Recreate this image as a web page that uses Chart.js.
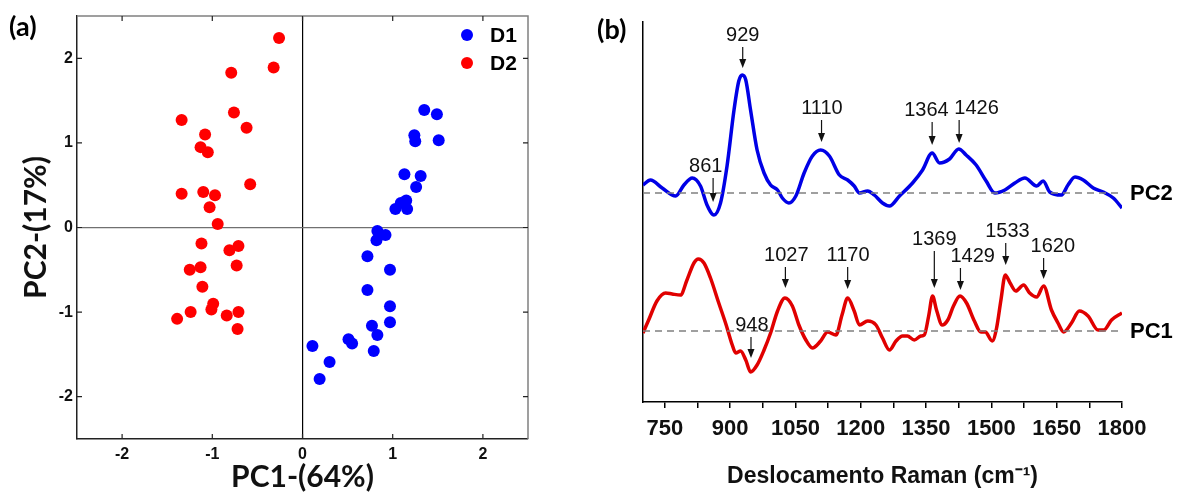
<!DOCTYPE html>
<html>
<head>
<meta charset="utf-8">
<script src="https://cdn.jsdelivr.net/npm/chart.js@4.4.1/dist/chart.umd.min.js"></script>
<style>
  html, body { margin: 0; padding: 0; background: #fff; }
  #wrap { position: relative; width: 1188px; height: 492px; }
  #scoreChart { position: absolute; left: 0; top: 0; }
  #loadingChart { position: absolute; left: 594px; top: 0; }
</style>
</head>
<body>
<div id="wrap">
  <canvas id="scoreChart" width="594" height="492"></canvas>
  <canvas id="loadingChart" width="594" height="492"></canvas>
</div>
<script>
// (a) PCA scores
const d1PC1 = [1.35, 1.49, 1.24, 1.25, 1.51, 1.13, 1.31, 1.26, 1.15, 1.09, 1.03, 1.16, 0.83, 0.92,
    0.82, 0.72, 0.97, 0.72, 0.97, 0.97, 0.77, 0.83, 0.51, 0.55, 0.79, 0.11, 0.30, 0.19];
const d1PC2 = [1.39, 1.34, 1.09, 1.02, 1.03, 0.63, 0.61, 0.48, 0.32, 0.29, 0.22, 0.22, -0.04, -0.09,
    -0.15, -0.34, -0.50, -0.74, -0.93, -1.12, -1.16, -1.27, -1.32, -1.37, -1.46, -1.40, -1.59, -1.79];
const d2PC1 = [-0.26, -0.32, -0.79, -0.76, -0.62, -1.34, -1.08, -1.13, -1.05, -0.58, -1.34, -1.10, -0.97,
    -1.03, -0.94, -1.12, -0.81, -0.71, -1.25, -1.13, -0.73, -1.11, -0.99, -1.01, -1.24, -1.39, -0.84, -0.71, -0.72];
const d2PC2 = [2.24, 1.89, 1.83, 1.36, 1.18, 1.27, 1.10, 0.95, 0.89, 0.51, 0.40, 0.42, 0.38,
    0.24, 0.04, -0.19, -0.27, -0.22, -0.50, -0.47, -0.45, -0.70, -0.90, -0.97, -1.00, -1.08, -1.04, -1.00, -1.20];
const scoreTicks = [-2, -1, 0, 1, 2];

// (b) loadings (arbitrary units, each curve around its own zero line)
const pc2Shift = [700, 717, 744, 775, 794, 813, 832, 847, 863, 878, 893, 909, 920, 928, 936, 947, 962, 978,
    993, 1009, 1020, 1035, 1051, 1070, 1089, 1108, 1128, 1151, 1170, 1185, 1197, 1216, 1231, 1250, 1266,
    1289, 1319, 1342, 1364, 1381, 1404, 1425, 1442, 1465, 1488, 1508, 1531, 1554, 1577, 1604, 1619, 1634,
    1661, 1676, 1692, 1711, 1734, 1757, 1780, 1800];
const pc2Loading = [0.8, 1.3, 0.5, -0.3, 0.8, 1.5, 0.7, -1.2, -2.2, -1.0, 2.7, 8.3, 11.2, 11.8, 11.3, 8.3, 4.3, 2.0,
    0.8, 0.3, -0.5, -1.0, -0.3, 2.0, 3.7, 4.3, 3.7, 1.8, 1.3, 0.7, 0.0, 0.2, -0.2, -1.0, -1.3,
    -0.3, 1.0, 2.3, 4.0, 3.0, 3.4, 4.4, 3.8, 2.8, 1.2, 0.0, 0.3, 1.0, 1.5, 0.7, 1.2, 0.1,
    -0.2, 0.8, 1.6, 1.3, 0.5, 0.1, -0.5, -1.5];
const pc1Shift = [700, 713, 732, 752, 767, 786, 801, 817, 827, 840, 855, 874, 891, 905, 913, 924, 936, 947, 962,
    978, 993, 1009, 1026, 1043, 1058, 1074, 1089, 1108, 1124, 1143, 1157, 1170, 1185, 1197, 1216, 1235,
    1250, 1266, 1281, 1296, 1307, 1323, 1338, 1346, 1356, 1365, 1374, 1387, 1400, 1413, 1428, 1443, 1461,
    1476, 1486, 1502, 1512, 1522, 1532, 1543, 1556, 1574, 1588, 1604, 1620, 1638, 1653, 1666, 1684, 1702,
    1722, 1745, 1758, 1776, 1800];
const pc1Loading = [-0.2, 1.1, 3.0, 3.8, 3.7, 3.6, 5.1, 6.8, 7.2, 6.8, 5.3, 2.8, 0.6, -1.4, -2.2, -2.0, -2.9, -4.1, -3.4,
    -1.9, -0.2, 2.0, 3.3, 2.5, 0.6, -0.9, -1.7, -1.0, -0.1, -0.4, 1.6, 3.3, 2.0, 0.6, 1.0, 0.6,
    -0.7, -1.9, -1.0, -0.5, -0.5, -0.9, -0.5, -0.4, 1.5, 3.5, 2.1, 0.6, 1.1, 2.5, 3.5, 2.8, 1.0,
    -0.1, -0.1, -1.0, 0.3, 3.1, 5.6, 4.8, 4.0, 4.6, 3.8, 3.4, 4.5, 2.1, 0.8, -0.1, 0.8, 2.0,
    1.5, 0.1, 0.1, 1.1, 1.8];
const pc2Offset = 20.9;
const pc1Offset = 7.1;
const ramanMajorTicks = [750, 900, 1050, 1200, 1350, 1500, 1650, 1800];
const ramanMinorTicks = [825, 975, 1125, 1275, 1425, 1575, 1725];

// peak labels: band, arrow tip / tail (loading units), where the number sits
const pc2Peaks = [861, 929, 1110, 1364, 1426];
const pc2PeakTip = [-0.9, 12.5, 5.1, 4.8, 5.0];
const pc2PeakTail = [1.5, 14.6, 7.3, 7.1, 7.3];
const pc2PeakLabelAt = [844, 929, 1111, 1351, 1466];
const pc1Peaks = [948, 1027, 1170, 1369, 1429, 1533, 1620];
const pc1PeakTip = [-2.7, 4.3, 4.2, 4.3, 4.1, 6.6, 5.2];
const pc1PeakTail = [-0.6, 6.4, 6.4, 8.0, 6.3, 8.8, 7.3];
const pc1PeakLabelAt = [950, 1029, 1171, 1369, 1457, 1537, 1641];

const toPoints = (xs, ys, shift = 0) => xs.map((x, i) => ({ x: x, y: ys[i] + shift }));

// frame, inward ticks, legend and panel letter for (a)
const scoreDecor = {
    id: 'scoreDecor',
    afterDraw(chart) {
        const { ctx, chartArea: a, scales: { x, y } } = chart;
        ctx.save();
        ctx.strokeStyle = '#808080';
        ctx.lineWidth = 1.5;
        ctx.beginPath();
        ctx.moveTo(a.left, a.top); ctx.lineTo(a.right, a.top); ctx.lineTo(a.right, a.bottom);
        ctx.stroke();
        ctx.strokeStyle = '#222';
        ctx.lineWidth = 1.2;
        ctx.beginPath();
        scoreTicks.forEach(v => {
            const px = x.getPixelForValue(v);
            ctx.moveTo(px, a.bottom); ctx.lineTo(px, a.bottom - 5);
            ctx.moveTo(px, a.top); ctx.lineTo(px, a.top + 5);
            const py = y.getPixelForValue(v);
            ctx.moveTo(a.left, py); ctx.lineTo(a.left + 5, py);
            ctx.moveTo(a.right, py); ctx.lineTo(a.right - 5, py);
        });
        ctx.stroke();

        // legend
        chart.data.datasets.forEach((ds, i) => {
            const cy = a.top + 19 + i * 28;
            ctx.fillStyle = ds.backgroundColor;
            ctx.beginPath();
            ctx.arc(a.right - 61, cy, 6, 0, Math.PI * 2);
            ctx.fill();
            ctx.fillStyle = '#000';
            ctx.font = 'bold 21px "Liberation Sans", Arial, sans-serif';
            ctx.textAlign = 'left';
            ctx.textBaseline = 'middle';
            ctx.fillText(ds.label, a.right - 38, cy + 1);
        });

        ctx.font = 'bold 27px Lato, "Open Sans", sans-serif';
        ctx.textAlign = 'left';
        ctx.textBaseline = 'middle';
        ctx.fillText('(a)', 9, 27);
        ctx.restore();
    }
};

// peak arrows, curve names and panel letter for (b)
function drawPeaks(ctx, x, y, peaks, tips, tails, labelAt, offset) {
    peaks.forEach((p, i) => {
        const px = x.getPixelForValue(p);
        const top = y.getPixelForValue(tails[i] + offset);
        const tip = y.getPixelForValue(tips[i] + offset);
        ctx.beginPath();
        ctx.moveTo(px, top); ctx.lineTo(px, tip - 7);
        ctx.stroke();
        ctx.beginPath();
        ctx.moveTo(px - 3.5, tip - 9); ctx.lineTo(px + 3.5, tip - 9); ctx.lineTo(px, tip);
        ctx.closePath();
        ctx.fill();
        ctx.fillText(String(p), x.getPixelForValue(labelAt[i]), top - 12);
    });
}

const loadingDecor = {
    id: 'loadingDecor',
    afterDatasetsDraw(chart) {
        const { ctx, chartArea: a, scales: { x, y } } = chart;
        ctx.save();
        ctx.strokeStyle = '#111';
        ctx.fillStyle = '#111';
        ctx.lineWidth = 1.2;
        ctx.font = '20px "Liberation Sans", Arial, sans-serif';
        ctx.textAlign = 'center';
        ctx.textBaseline = 'middle';
        drawPeaks(ctx, x, y, pc2Peaks, pc2PeakTip, pc2PeakTail, pc2PeakLabelAt, pc2Offset);
        drawPeaks(ctx, x, y, pc1Peaks, pc1PeakTip, pc1PeakTail, pc1PeakLabelAt, pc1Offset);

        ctx.fillStyle = '#000';
        ctx.font = 'bold 22px "Liberation Sans", Arial, sans-serif';
        ctx.textAlign = 'left';
        ctx.fillText('PC2', a.right + 8, y.getPixelForValue(pc2Offset) + 1);
        ctx.fillText('PC1', a.right + 8, y.getPixelForValue(pc1Offset) + 1);

        ctx.font = 'bold 27px Lato, "Open Sans", sans-serif';
        ctx.fillText('(b)', 3, 30);
        ctx.restore();
    }
};

const titleFont = { family: 'Lato, "Open Sans", sans-serif', size: 30, weight: 'bold', lineHeight: 1 };
const scoreTickFont = { family: '"Liberation Sans", Arial, sans-serif', size: 16, weight: 'bold' };

function createScoreChart() {
    const ctx = document.getElementById('scoreChart').getContext('2d');
    return new Chart(ctx, {
        type: 'scatter',
        data: {
            datasets: [
                { label: 'D1', data: toPoints(d1PC1, d1PC2), backgroundColor: '#0000ff', pointRadius: 6, pointBorderWidth: 0 },
                { label: 'D2', data: toPoints(d2PC1, d2PC2), backgroundColor: '#ff0000', pointRadius: 6, pointBorderWidth: 0 },
            ],
        },
        options: {
            responsive: false,
            animation: false,
            events: [],
            layout: { padding: { top: 16, right: 66, left: 0, bottom: 0 } },
            plugins: { legend: { display: false }, tooltip: { enabled: false } },
            scales: {
                x: {
                    min: -2.5, max: 2.5,
                    afterBuildTicks: s => { s.ticks = scoreTicks.map(v => ({ value: v })); },
                    afterFit: s => { s.height = 53; },
                    ticks: { font: scoreTickFont, color: '#111', padding: 6, maxRotation: 0 },
                    grid: {
                        drawTicks: false, lineWidth: 1.2,
                        color: c => (c.tick && c.tick.value === 0 ? '#000' : 'rgba(0,0,0,0)'),
                    },
                    border: { color: '#222', width: 1.5 },
                    title: { display: true, text: 'PC1-(64%)', font: titleFont, color: '#111', padding: { top: 0, bottom: 0 } },
                },
                y: {
                    min: -2.5, max: 2.5,
                    afterBuildTicks: s => { s.ticks = scoreTicks.map(v => ({ value: v })); },
                    afterFit: s => { s.width = 77; },
                    ticks: { font: scoreTickFont, color: '#111', padding: 4 },
                    grid: {
                        drawTicks: false, lineWidth: 1.2,
                        color: c => (c.tick && c.tick.value === 0 ? '#707070' : 'rgba(0,0,0,0)'),
                    },
                    border: { color: '#222', width: 1.5 },
                    title: { display: true, text: 'PC2-(17%)', font: titleFont, color: '#111', padding: { top: 21, bottom: 0 } },
                },
            },
        },
        plugins: [scoreDecor],
    });
}

function createLoadingChart() {
    const ctx = document.getElementById('loadingChart').getContext('2d');
    const zeroLine = offset => ({
        data: [{ x: 700, y: offset }, { x: 1800, y: offset }],
        borderColor: '#808080', borderWidth: 1.5, borderDash: [7, 5], pointRadius: 0,
    });
    return new Chart(ctx, {
        type: 'line',
        data: {
            datasets: [
                zeroLine(pc2Offset),
                zeroLine(pc1Offset),
                {
                    label: 'PC2', data: toPoints(pc2Shift, pc2Loading, pc2Offset),
                    borderColor: '#0000e6', borderWidth: 3.5, pointRadius: 0, cubicInterpolationMode: 'monotone',
                },
                {
                    label: 'PC1', data: toPoints(pc1Shift, pc1Loading, pc1Offset),
                    borderColor: '#e00000', borderWidth: 3.5, pointRadius: 0, cubicInterpolationMode: 'monotone',
                },
            ],
        },
        options: {
            responsive: false,
            animation: false,
            events: [],
            layout: { padding: { top: 22, right: 66, left: 0, bottom: 0 } },
            plugins: { legend: { display: false }, tooltip: { enabled: false } },
            scales: {
                x: {
                    type: 'linear', min: 700, max: 1800,
                    afterBuildTicks: s => {
                        s.ticks = [...ramanMajorTicks, ...ramanMinorTicks].sort((p, q) => p - q).map(v => ({ value: v }));
                    },
                    afterFit: s => { s.height = 90; },
                    ticks: {
                        autoSkip: false, maxRotation: 0, padding: 8, color: '#111',
                        font: { family: '"Liberation Sans", Arial, sans-serif', size: 22, weight: 'bold' },
                        callback: v => (ramanMajorTicks.includes(v) ? String(v) : ''),
                    },
                    grid: { drawOnChartArea: false, drawTicks: true, tickLength: 6, color: '#000', lineWidth: 1.5 },
                    border: { color: '#000', width: 1.5 },
                    title: {
                        display: true, text: 'Deslocamento Raman (cm⁻¹)', color: '#111',
                        font: { family: '"Liberation Sans", Arial, sans-serif', size: 23, weight: 'bold', lineHeight: 1 },
                        padding: { top: 0, bottom: 4 },
                    },
                },
                y: {
                    min: 0, max: 38,
                    afterFit: s => { s.width = 49; },
                    ticks: { display: false },
                    grid: { display: false },
                    border: { display: true, color: '#000', width: 1.5 },
                },
            },
        },
        plugins: [loadingDecor],
    });
}

window.onload = () => {
    createScoreChart();
    createLoadingChart();
};
</script>
</body>
</html>
